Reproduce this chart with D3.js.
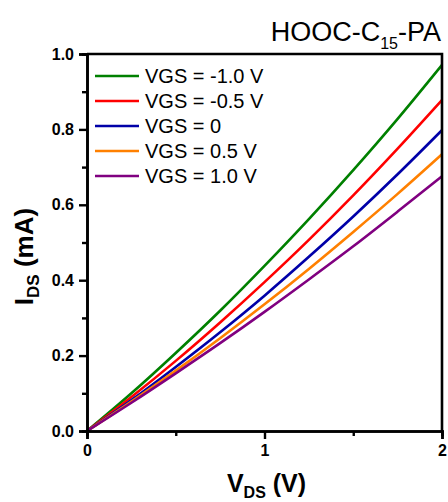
<!DOCTYPE html>
<html>
<head>
<meta charset="utf-8">
<script src="https://cdn.jsdelivr.net/npm/d3@7"></script>
<style>
  body { margin: 0; background: #fff; }
  svg { display: block; font-family: "Liberation Sans", Arial, sans-serif; }
</style>
</head>
<body>
<svg id="chart"></svg>
<script>
// V_DS sweep (V)
const vds = [0, 0.25, 0.5, 0.75, 1, 1.25, 1.5, 1.75, 2];

// I_DS (mA) for each gate voltage
const idsM10 = [0, 0.100, 0.207, 0.319, 0.438, 0.562, 0.692, 0.828, 0.971];
const idsM05 = [0, 0.090, 0.186, 0.288, 0.395, 0.507, 0.625, 0.749, 0.878];
const ids00  = [0, 0.082, 0.170, 0.262, 0.359, 0.462, 0.569, 0.681, 0.798];
const idsP05 = [0, 0.078, 0.160, 0.246, 0.336, 0.430, 0.528, 0.629, 0.734];
const idsP10 = [0, 0.075, 0.153, 0.233, 0.316, 0.402, 0.490, 0.582, 0.676];

const seriesNames = ["VGS = -1.0 V", "VGS = -0.5 V", "VGS = 0", "VGS = 0.5 V", "VGS = 1.0 V"];
const seriesColors = ["#008000", "#ff0000", "#0000a8", "#ff8000", "#800080"];
const allIds = [idsM10, idsM05, ids00, idsP05, idsP10];

const xTicks = [0, 1, 2];
const yTicks = [0.0, 0.2, 0.4, 0.6, 0.8, 1.0];

// dimensions
let margin = {top: 54, right: 6, bottom: 71, left: 87},
    W = 448, H = 502,
    width = W - margin.left - margin.right,
    height = H - margin.top - margin.bottom;

let svg = d3.select("#chart").attr("width", W).attr("height", H);
let g = svg.append("g").attr("transform", "translate(" + margin.left + "," + margin.top + ")");

let x = d3.scaleLinear().domain([0, 2]).range([0, width]);
let y = d3.scaleLinear().domain([0, 1.0]).range([height, 0]);

// curves
let line = d3.line()
    .x(function(d) { return x(d[0]); })
    .y(function(d) { return y(d[1]); })
    .curve(d3.curveMonotoneX);

allIds.forEach(function(arr, i) {
    g.append("path")
        .datum(vds.map(function(v, k) { return [v, arr[k]]; }))
        .attr("fill", "none")
        .attr("stroke", seriesColors[i])
        .attr("stroke-width", 2.6)
        .attr("d", line);
});

// frame (top + right)
g.append("path")
    .attr("d", "M0,0H" + width + "V" + height)
    .attr("fill", "none")
    .attr("stroke", "#000")
    .attr("stroke-width", 2.6);

// minor ticks
let xAxisMinor = d3.axisBottom(x).tickValues([0.5, 1.5]).tickSize(5).tickFormat("");
let yAxisMinor = d3.axisLeft(y).tickValues([0.1, 0.3, 0.5, 0.7, 0.9]).tickSize(5).tickFormat("");
g.append("g").attr("transform", "translate(0," + height + ")").call(xAxisMinor);
g.append("g").call(yAxisMinor);

// major axes
let xAxis = g.append("g")
    .attr("class", "axis")
    .attr("transform", "translate(0," + height + ")")
    .call(d3.axisBottom(x).tickValues(xTicks).tickSize(8).tickPadding(6).tickFormat(d3.format("d")));
let yAxis = g.append("g")
    .attr("class", "axis")
    .call(d3.axisLeft(y).tickValues(yTicks).tickSize(8).tickPadding(5).tickFormat(d3.format(".1f")));

g.selectAll(".domain").attr("stroke-width", 2.6).attr("stroke", "#000");
g.selectAll(".tick line").attr("stroke-width", 2.4).attr("stroke", "#000");
g.selectAll(".axis text")
    .attr("font-size", 16)
    .attr("font-weight", "bold")
    .attr("font-family", "Liberation Sans, Arial, sans-serif")
    .attr("fill", "#000");

// axis titles
let xt = svg.append("text")
    .attr("x", margin.left + width / 2 + 2)
    .attr("y", 492)
    .attr("text-anchor", "middle")
    .attr("font-size", 25)
    .attr("font-weight", "bold");
xt.append("tspan").text("V");
xt.append("tspan").text("DS").attr("font-size", 16).attr("dy", 6);
xt.append("tspan").text(" (V)").attr("dy", -6);

let yt = svg.append("text")
    .attr("transform", "translate(33," + (margin.top + height / 2 + 14) + ")rotate(-90)")
    .attr("text-anchor", "middle")
    .attr("font-size", 26)
    .attr("font-weight", "bold");
yt.append("tspan").text("I");
yt.append("tspan").text("DS").attr("font-size", 17).attr("dy", 6);
yt.append("tspan").text(" (mA)").attr("dy", -6);

// title
let tt = svg.append("text")
    .attr("x", 441)
    .attr("y", 41)
    .attr("text-anchor", "end")
    .attr("font-size", 27);
tt.append("tspan").text("HOOC-C");
tt.append("tspan").text("15").attr("font-size", 16).attr("dy", 8);
tt.append("tspan").text("-PA").attr("dy", -8);

// legend
let legend = g.append("g").attr("transform", "translate(8,22)");
seriesNames.forEach(function(name, i) {
    let row = legend.append("g").attr("transform", "translate(0," + (i * 25) + ")");
    row.append("line")
        .attr("x1", 0).attr("x2", 44)
        .attr("stroke", seriesColors[i])
        .attr("stroke-width", 2.6);
    row.append("text")
        .attr("x", 50)
        .attr("dy", "0.35em")
        .attr("font-size", 20)
        .text(name);
});
</script>
</body>
</html>
